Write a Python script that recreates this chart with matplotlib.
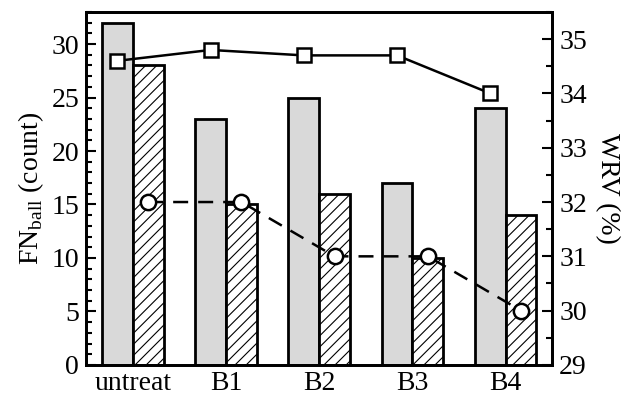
import numpy as np
import matplotlib
matplotlib.use("Agg")
import matplotlib.pyplot as plt
from matplotlib.ticker import MultipleLocator

plt.rcParams['font.family'] = 'Liberation Serif'
plt.rcParams['mathtext.fontset'] = 'custom'
plt.rcParams['mathtext.rm'] = 'Liberation Serif'
plt.rcParams['hatch.linewidth'] = 0.8

samples = ["untreat", "B1", "B2", "B3", "B4"]
fn_ball_a = [32, 23, 25, 17, 24]
fn_ball_b = [28, 15, 16, 10, 14]
wrv_a = [34.6, 34.8, 34.7, 34.7, 34.0]
wrv_b = [32.0, 32.0, 31.0, 31.0, 30.0]

x = np.arange(len(samples))
w = 0.33
fs = 20

fig = plt.figure(figsize=(6.29, 3.98), dpi=100)
ax = fig.add_axes([0.137, 0.083, 0.741, 0.887])

ax.bar(x - w / 2, fn_ball_a, w, color="#d9d9d9", edgecolor="black", linewidth=2)
ax.bar(x + w / 2, fn_ball_b, w, color="white", edgecolor="black", linewidth=2, hatch="///")

ax.set_xlim(-0.5, 4.5)
ax.set_ylim(0, 33)
ax.set_xticks(x)
ax.set_xticklabels(samples)
ax.tick_params(axis="x", length=0, labelsize=fs, pad=4)
ax.yaxis.set_major_locator(MultipleLocator(5))
ax.yaxis.set_minor_locator(MultipleLocator(1))
ax.tick_params(axis="y", which="both", direction="in", labelsize=fs, width=1.5, pad=5)
ax.tick_params(axis="y", which="major", length=7)
ax.tick_params(axis="y", which="minor", length=4)
ax.set_ylabel("FN$_{\\mathrm{ball}}$ (count)", fontsize=fs, labelpad=4)
for s in ax.spines.values():
    s.set_linewidth(2)

ax2 = ax.twinx()
ax2.plot(x - w / 2, wrv_a, color="black", linewidth=1.8, marker="s", markersize=10,
         markerfacecolor="white", markeredgewidth=1.8, zorder=5)
ax2.plot(x + w / 2, wrv_b, color="black", linewidth=1.8, linestyle=(0, (6, 4)), marker="o",
         markersize=11, markerfacecolor="white", markeredgewidth=1.8, zorder=5)
ax2.set_ylim(29, 35.5)
ax2.yaxis.set_major_locator(MultipleLocator(1))
ax2.yaxis.set_minor_locator(MultipleLocator(0.5))
ax2.tick_params(axis="y", which="both", direction="in", labelsize=fs, width=1.5, pad=5)
ax2.tick_params(axis="y", which="major", length=7)
ax2.tick_params(axis="y", which="minor", length=4)
ax2.set_ylabel("WRV (%)", fontsize=fs, rotation=270, labelpad=24)
for s in ax2.spines.values():
    s.set_linewidth(2)

fig.savefig("out.png", dpi=100)
